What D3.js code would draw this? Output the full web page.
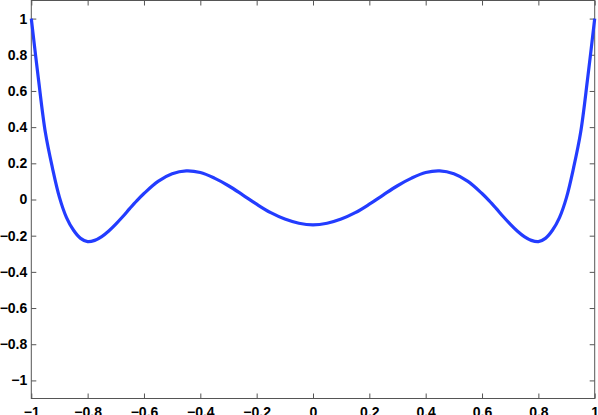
<!DOCTYPE html>
<html>
<head>
<meta charset="utf-8">
<script src="https://cdn.jsdelivr.net/npm/d3@7"></script>
<style>
  body { margin: 0; background: #fff; }
  svg { display: block; }
  .tick text { font-family: "Liberation Sans", Arial, Helvetica, sans-serif; font-weight: bold; font-size: 14px; fill: #000; }
</style>
</head>
<body>
<div id="chart"></div>
<script>
// values
const xValues = [-1, -0.975, -0.95, -0.925, -0.9, -0.875, -0.85, -0.825, -0.8, -0.775, -0.75, -0.725, -0.7, -0.675, -0.65, -0.625, -0.6,
  -0.55, -0.5, -0.45, -0.4, -0.35, -0.3, -0.25, -0.2, -0.15, -0.1, -0.05, 0,
  0.05, 0.1, 0.15, 0.2, 0.25, 0.3, 0.35, 0.4, 0.45, 0.5, 0.55,
  0.6, 0.625, 0.65, 0.675, 0.7, 0.725, 0.75, 0.775, 0.8, 0.825, 0.85, 0.875, 0.9, 0.925, 0.95, 0.975, 1];
const yValues = [1, 0.67, 0.37, 0.175, 0.012, -0.1, -0.17, -0.215, -0.233, -0.226, -0.205, -0.174, -0.136, -0.094, -0.049, -0.006, 0.033,
  0.1, 0.142, 0.158, 0.149, 0.118, 0.076, 0.026, -0.026, -0.073, -0.108, -0.131, -0.14,
  -0.131, -0.108, -0.073, -0.026, 0.026, 0.076, 0.118, 0.149, 0.158, 0.142, 0.1,
  0.033, -0.006, -0.049, -0.094, -0.136, -0.174, -0.205, -0.226, -0.233, -0.215, -0.17, -0.1, 0.012, 0.175, 0.37, 0.67, 1];
const xTicks = [-1, -0.8, -0.6, -0.4, -0.2, 0, 0.2, 0.4, 0.6, 0.8, 1];
const yTicks = [-1, -0.8, -0.6, -0.4, -0.2, 0, 0.2, 0.4, 0.6, 0.8, 1];

const width = 598;
const height = 415;
const margin = {left: 31.3, right: 594.7, top: 0.5, bottom: 398.5};

const data = xValues.map((x, i) => ({x: x, y: yValues[i]}));

const xScale = d3.scaleLinear().domain([-1, 1]).range([margin.left, margin.right]);
const yScale = d3.scaleLinear().domain([-1.1, 1.1]).range([margin.bottom, margin.top]);

const svg = d3.select("#chart")
  .append("svg")
  .attr("width", width)
  .attr("height", height);

const fmt = d3.format("~g");
const axisColor = "#555";

// bottom axis with labels
svg.append("g")
  .attr("transform", `translate(0,${margin.bottom})`)
  .call(d3.axisBottom(xScale).tickValues(xTicks).tickFormat(fmt).tickSizeInner(-5).tickSizeOuter(0).tickPadding(9));

// left axis with labels
svg.append("g")
  .attr("transform", `translate(${margin.left},0)`)
  .call(d3.axisLeft(yScale).tickValues(yTicks).tickFormat(fmt).tickSizeInner(-5).tickSizeOuter(0).tickPadding(4));

// top and right axes, ticks only
svg.append("g")
  .attr("transform", `translate(0,${margin.top})`)
  .call(d3.axisTop(xScale).tickValues(xTicks).tickFormat("").tickSizeInner(-5).tickSizeOuter(0));

svg.append("g")
  .attr("transform", `translate(${margin.right},0)`)
  .call(d3.axisRight(yScale).tickValues(yTicks).tickFormat("").tickSizeInner(-5).tickSizeOuter(0));

svg.selectAll(".domain").remove();
svg.selectAll(".tick line").attr("stroke", axisColor);

svg.append("rect")
  .attr("x", margin.left)
  .attr("y", margin.top)
  .attr("width", margin.right - margin.left)
  .attr("height", margin.bottom - margin.top)
  .attr("fill", "none")
  .attr("stroke", axisColor)
  .attr("stroke-width", 1);

const line = d3.line()
  .x(d => xScale(d.x))
  .y(d => yScale(d.y))
  .curve(d3.curveCatmullRom.alpha(0.5));

svg.append("path")
  .datum(data)
  .attr("fill", "none")
  .attr("stroke", "#233cff")
  .attr("stroke-width", 3.2)
  .attr("stroke-linejoin", "round")
  .attr("d", line);
</script>
</body>
</html>
